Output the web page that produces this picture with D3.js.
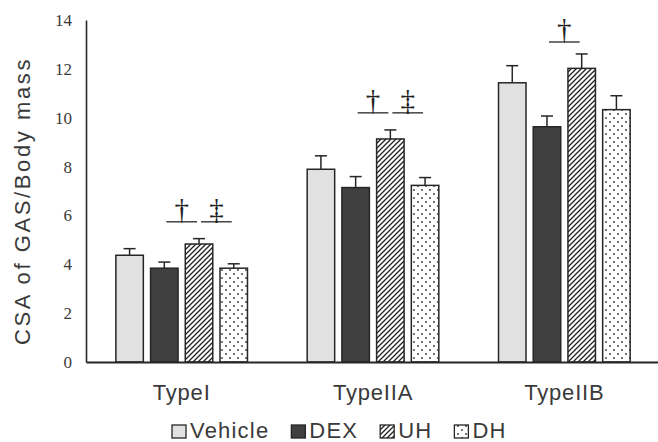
<!DOCTYPE html>
<html>
<head>
<meta charset="utf-8">
<script src="https://cdn.jsdelivr.net/npm/d3@7"></script>
<style>
  html, body { margin: 0; padding: 0; background: #fff; }
  svg { display: block; }
</style>
</head>
<body>
<svg id="chart" width="658" height="442"></svg>
<script>
// ---- data ----
const categories = ["TypeI", "TypeIIA", "TypeIIB"];
const seriesNames = ["Vehicle", "DEX", "UH", "DH"];
const vehicle    = [4.37, 7.89, 11.43];
const vehicleErr = [0.27, 0.55, 0.70];
const dex        = [3.84, 7.14, 9.63];
const dexErr     = [0.25, 0.45, 0.44];
const uh         = [4.83, 9.13, 12.02];
const uhErr      = [0.22, 0.37, 0.59];
const dh         = [3.84, 7.23, 10.33];
const dhErr      = [0.18, 0.32, 0.57];
const yTicks = [0, 2, 4, 6, 8, 10, 12, 14];
const yTitle = "CSA of GAS/Body mass";
// significance marks: category, bar pair, level (in y units), symbol
const sigCats   = ["TypeI", "TypeI", "TypeIIA", "TypeIIA", "TypeIIB"];
const sigFrom   = ["DEX", "UH", "DEX", "UH", "DEX"];
const sigTo     = ["UH", "DH", "UH", "DH", "UH"];
const sigLevel  = [5.74, 5.74, 10.2, 10.2, 13.1];
const sigSymbol = ["\u2020", "\u2021", "\u2020", "\u2021", "\u2020"];

const values = [vehicle, dex, uh, dh];
const errors = [vehicleErr, dexErr, uhErr, dhErr];
const rows = [];
categories.forEach((c, ci) => seriesNames.forEach((s, si) =>
  rows.push({cat: c, series: s, value: values[si][ci], err: errors[si][ci]})));

// ---- layout ----
const svg = d3.select("#chart");
const ink = "#262626";
const textCol = "#3a3a3a";
const serif = "'Liberation Serif', 'DejaVu Serif', 'Times New Roman', serif";
const sans = "'Liberation Sans', Arial, sans-serif";

const x0 = d3.scaleBand().domain(categories).range([86, 660]).paddingInner(0.312).paddingOuter(0.156);
const x1 = d3.scaleBand().domain(seriesNames).range([0, x0.bandwidth()]).paddingInner(0.208);
const y = d3.scaleLinear().domain([0, 14]).range([362, 20]);

// patterns
const defs = svg.append("defs");
const hatch = defs.append("pattern").attr("id", "hatch").attr("patternUnits", "userSpaceOnUse")
  .attr("width", 5).attr("height", 5);
hatch.append("rect").attr("width", 5).attr("height", 5).attr("fill", "#fff");
hatch.append("path").attr("d", "M-1,1 L1,-1 M0,5 L5,0 M4,6 L6,4")
  .attr("stroke", "#222").attr("stroke-width", 1.3);
const dots = defs.append("pattern").attr("id", "dots").attr("patternUnits", "userSpaceOnUse")
  .attr("width", 8).attr("height", 8);
dots.append("rect").attr("width", 8).attr("height", 8).attr("fill", "#fff");
dots.append("circle").attr("cx", 2).attr("cy", 2).attr("r", 0.9).attr("fill", "#333");
dots.append("circle").attr("cx", 6).attr("cy", 6).attr("r", 0.9).attr("fill", "#333");

const fills = {Vehicle: "#e1e1e1", DEX: "#404040", UH: "url(#hatch)", DH: "url(#dots)"};

// bars
svg.append("g").selectAll("rect").data(rows).join("rect")
  .attr("x", d => x0(d.cat) + x1(d.series))
  .attr("y", d => y(d.value))
  .attr("width", x1.bandwidth())
  .attr("height", d => y(0) - y(d.value))
  .attr("fill", d => fills[d.series])
  .attr("stroke", ink).attr("stroke-width", 1.5);

// error bars (upper only)
const eg = svg.append("g").attr("stroke", ink).attr("stroke-width", 1.5);
rows.forEach(d => {
  const cx = x0(d.cat) + x1(d.series) + x1.bandwidth() / 2;
  eg.append("line").attr("x1", cx).attr("x2", cx).attr("y1", y(d.value)).attr("y2", y(d.value + d.err));
  eg.append("line").attr("x1", cx - 6).attr("x2", cx + 6).attr("y1", y(d.value + d.err)).attr("y2", y(d.value + d.err));
});

// axes
const yAxis = svg.append("g").attr("transform", "translate(86,0)")
  .call(d3.axisLeft(y).tickValues(yTicks).tickSize(0).tickSizeOuter(0).tickPadding(14));
yAxis.attr("font-family", null).attr("font-size", null);
yAxis.select(".domain").attr("stroke", ink).attr("stroke-width", 1.6);
yAxis.selectAll("text").style("font-family", serif)
  .style("font-size", "17px").attr("fill", textCol);

const xAxis = svg.append("g").attr("transform", "translate(0,362)")
  .call(d3.axisBottom(x0).tickSize(0).tickSizeOuter(0).tickPadding(22));
xAxis.attr("font-family", null).attr("font-size", null);
xAxis.select(".domain").attr("stroke", ink).attr("stroke-width", 2);
xAxis.selectAll("text").style("font-family", sans)
  .style("font-size", "22px").style("letter-spacing", "0.8px").attr("fill", textCol);

// y title
svg.append("text")
  .attr("transform", "translate(30,201) rotate(-90)")
  .attr("text-anchor", "middle")
  .style("font-family", sans)
  .style("font-size", "22px").style("letter-spacing", "2.6px")
  .attr("fill", textCol)
  .text(yTitle);

// significance
const sg = svg.append("g");
sigCats.forEach((c, i) => {
  const xa = x0(c) + x1(sigFrom[i]) + x1.bandwidth() / 2 + 2;
  const xb = x0(c) + x1(sigTo[i]) + x1.bandwidth() / 2 - 2;
  const ly = y(sigLevel[i]);
  sg.append("line").attr("x1", xa).attr("x2", xb).attr("y1", ly).attr("y2", ly)
    .attr("stroke", "#444").attr("stroke-width", 1.5);
  sg.append("text").attr("x", (xa + xb) / 2).attr("y", ly - 3)
    .attr("text-anchor", "middle")
    .style("font-family", serif)
    .style("font-size", "29px").attr("fill", "#222")
    .text(sigSymbol[i]);
});

// legend
const lg = svg.append("g");
let lx = 172;
seriesNames.forEach(s => {
  lg.append("rect").attr("x", lx).attr("y", 425).attr("width", 14).attr("height", 13)
    .attr("fill", fills[s]).attr("stroke", ink).attr("stroke-width", 1.3);
  const t = lg.append("text").attr("x", lx + 18).attr("y", 438)
    .style("font-family", sans)
    .style("font-size", "22px").style("letter-spacing", "1.2px").attr("fill", textCol)
    .text(s);
  lx += 18 + t.node().getComputedTextLength() + 22;
});
</script>
</body>
</html>
